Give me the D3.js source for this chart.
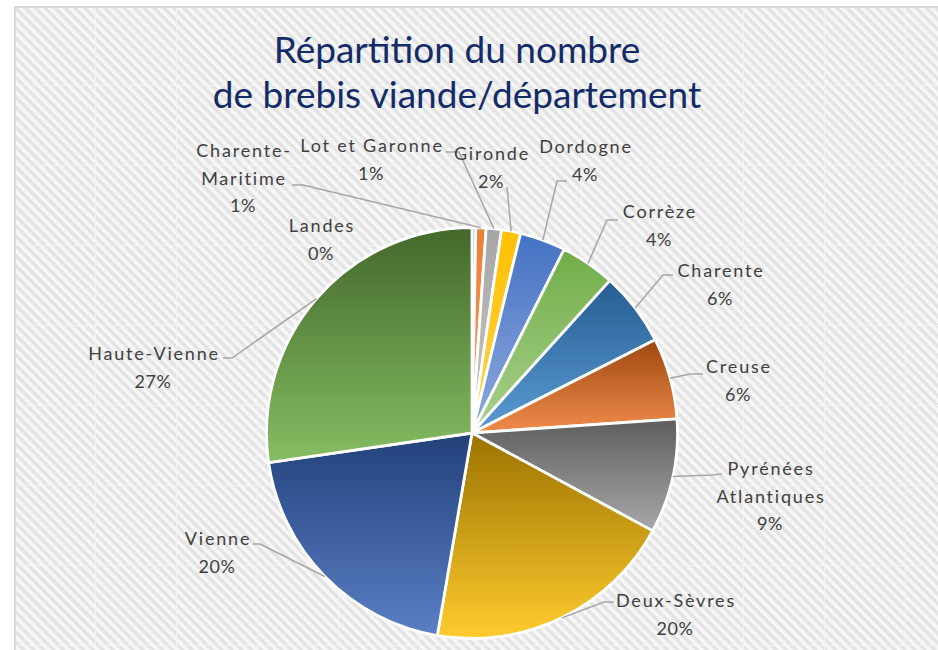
<!DOCTYPE html>
<html>
<head>
<meta charset="utf-8">
<script src="https://cdn.jsdelivr.net/npm/d3@7"></script>
<style>
body {margin:0; background:#fff;}
svg {display:block;}
</style>
</head>
<body>
<script>
// data (share of meat ewes per departement, %)
var departements = ["Landes", "Charente-Maritime", "Lot et Garonne", "Gironde", "Dordogne", "Corrèze",
	"Charente", "Creuse", "Pyrénées Atlantiques", "Deux-Sèvres", "Vienne", "Haute-Vienne"]
var parts = [0.3, 0.8, 1.2, 1.5, 3.6, 4.3, 5.8, 6.4, 9.0, 19.8, 20.0, 27.3]
var pct_labels = ["0%", "1%", "1%", "2%", "4%", "4%", "6%", "6%", "9%", "20%", "20%", "27%"]
var name_lines = [["Landes"], ["Charente-", "Maritime"], ["Lot et Garonne"], ["Gironde"], ["Dordogne"], ["Corrèze"],
	["Charente"], ["Creuse"], ["Pyrénées", "Atlantiques"], ["Deux-Sèvres"], ["Vienne"], ["Haute-Vienne"]]
var title_lines = ["Répartition du nombre", "de brebis viande/département"]

// gradient colours per slice (top -> bottom)
var col_top = ["#5b9bd5", "#ed7d31", "#a5a5a5", "#ffc000", "#4472c4", "#70ad47",
	"#255e91", "#9e480e", "#5e5e5e", "#9a7200", "#22417a", "#43682b"]
var col_bot = ["#c5dcf0", "#f4a36c", "#c9c9c9", "#ffd44d", "#8faadc", "#a9d18e",
	"#5b9bd5", "#f08c4c", "#a8a8a8", "#ffcc2e", "#5a7fc6", "#86bd62"]

// label placement: centre x, first baseline y, leader elbow and tail
var label_pos = [
	{x:321, y:232, elbow:null},
	{x:243, y:157, elbow:[303,185], tail:[292,185]},
	{x:371, y:152, elbow:[459,152], tail:[446,152]},
	{x:491, y:160, elbow:[507,187], tail:null},
	{x:585, y:153, elbow:[557,181], tail:[567,181]},
	{x:659, y:218, elbow:[607,220], tail:[618,220]},
	{x:720, y:277, elbow:[663,275], tail:[673,275]},
	{x:738, y:373, elbow:[690,374], tail:[703,374]},
	{x:770, y:475, elbow:[712,475], tail:[722,474]},
	{x:675, y:607, elbow:[604,602], tail:[614,602]},
	{x:217, y:545, elbow:[260,544], tail:[253,544]},
	{x:153, y:360, elbow:[232,358], tail:[223,358]}
]

var W = 938, H = 650
var cx = 472, cy = 433, R = 205.5

var svg = d3.select('body').append('svg').attr('width', W).attr('height', H)
var defs = svg.append('defs')

// diagonal stripes of the chart area
var pat = defs.append('pattern').attr('id', 'stripes')
	.attr('patternUnits', 'userSpaceOnUse').attr('width', 7).attr('height', 7)
	.attr('patternTransform', 'rotate(45)')
pat.append('rect').attr('width', 7).attr('height', 7).attr('fill', '#f7f7f7')
pat.append('rect').attr('width', 7).attr('height', 3.4).attr('fill', '#e3e3e3')

svg.append('rect').attr('x', 14).attr('y', 6).attr('width', W).attr('height', H)
	.attr('fill', 'url(#stripes)')

// faint sheet gridlines behind
var grid = svg.append('g').attr('stroke', '#f3f3f3').attr('stroke-width', 1)
grid.selectAll('.vg').data(d3.range(95, W, 81)).enter().append('line')
	.attr('x1', d => d + 0.5).attr('x2', d => d + 0.5).attr('y1', 6).attr('y2', H)
grid.selectAll('.hg').data(d3.range(85, H, 80)).enter().append('line')
	.attr('y1', d => d + 0.5).attr('y2', d => d + 0.5).attr('x1', 14).attr('x2', W)

// border
svg.append('path').attr('d', 'M15,' + H + 'V7H' + W)
	.attr('fill', 'none').attr('stroke', '#d9d9d9').attr('stroke-width', 2)

// title
svg.append('g').selectAll('text').data(title_lines).enter().append('text')
	.attr('x', 457).attr('y', (d, i) => 63 + i * 45)
	.attr('text-anchor', 'middle')
	.attr('font-family', 'Lato, "Open Sans", sans-serif')
	.attr('font-size', 37).attr('fill', '#132c69')
	.text(d => d)

// pie
var pie_data = departements.map((d, i) => ({name:d, val:parts[i], pct:pct_labels[i], i:i}))
var pie = d3.pie().sort(null).value(d => d.val)
var arcs = pie(pie_data)
var arc = d3.arc().innerRadius(0).outerRadius(R)

arcs.forEach((a, i) => {
	var g = defs.append('linearGradient').attr('id', 'grad' + i)
		.attr('x1', 0).attr('y1', 0).attr('x2', 0).attr('y2', 1)
	g.append('stop').attr('offset', '0%').attr('stop-color', col_top[i])
	g.append('stop').attr('offset', '100%').attr('stop-color', col_bot[i])
})

var pie_g = svg.append('g').attr('transform', 'translate(' + cx + ',' + cy + ')')
pie_g.selectAll('.slice').data(arcs).enter().append('path')
	.attr('class', 'slice')
	.attr('d', arc)
	.attr('fill', (d, i) => 'url(#grad' + i + ')')
	.attr('stroke', '#fff').attr('stroke-width', 2.8).attr('stroke-linejoin', 'round')

// leader lines
var lead_g = svg.append('g').attr('fill', 'none').attr('stroke', '#a6a6a6').attr('stroke-width', 1.5)
arcs.forEach((a, i) => {
	var p = label_pos[i]
	if (!p.elbow) return
	var m = (a.startAngle + a.endAngle) / 2
	var pts = [[cx + R * Math.sin(m), cy - R * Math.cos(m)], p.elbow]
	if (p.tail) pts.push(p.tail)
	lead_g.append('path').attr('d', d3.line()(pts))
})

// labels
var lab_g = svg.append('g')
	.attr('font-family', 'Lato, "Open Sans", sans-serif')
	.attr('font-size', 18).attr('fill', '#404040')
	.attr('text-anchor', 'middle')
arcs.forEach((a, i) => {
	var p = label_pos[i]
	var lines = name_lines[i].concat([pct_labels[i]])
	lines.forEach((t, j) => {
		var is_pct = j == lines.length - 1
		lab_g.append('text').attr('x', p.x + (is_pct ? 0 : 1)).attr('y', p.y + j * 27.5)
			.attr('letter-spacing', is_pct ? 0.5 : 1.8)
			.text(t)
	})
})
</script>
</body>
</html>
